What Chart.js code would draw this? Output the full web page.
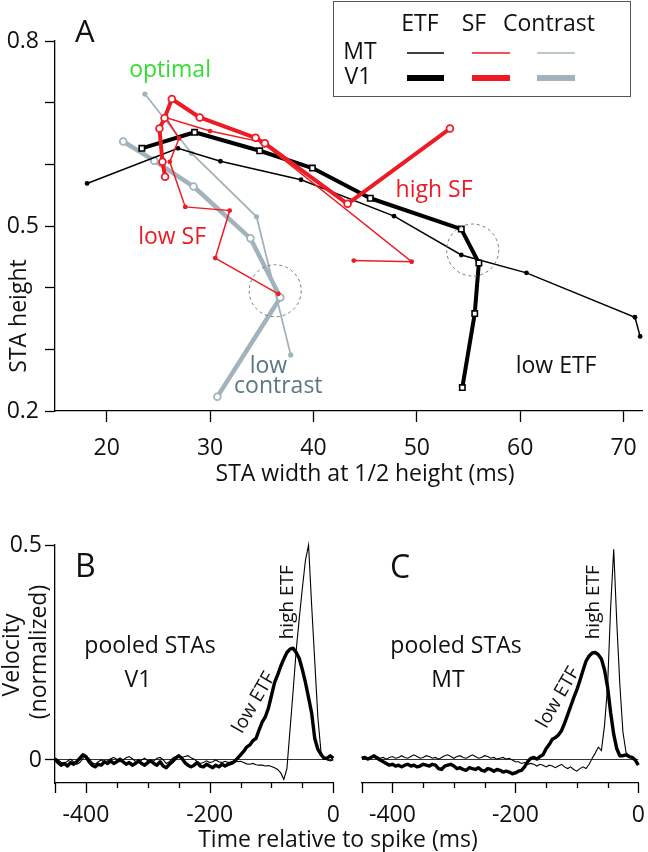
<!DOCTYPE html>
<html>
<head>
<meta charset="utf-8">
<script src="https://cdn.jsdelivr.net/npm/chart.js@4.4.1/dist/chart.umd.min.js"></script>
<style>
  body { margin: 0; background: #fff; }
  #wrap { position: relative; width: 648px; height: 852px; font-family: 'Open Sans', sans-serif; color: #111; }
  canvas { position: absolute; }
  #xtitleBC { position: absolute; left: 88px; width: 500px; top: 824px; text-align: center; font-size: 23px; line-height: 28px; }
</style>
</head>
<body>
<div id="wrap">
  <canvas id="chartA" width="648" height="520" style="left:0;top:0"></canvas>
  <canvas id="chartB" width="340" height="332" style="left:0;top:520px"></canvas>
  <canvas id="chartC" width="308" height="332" style="left:340px;top:520px"></canvas>
  <div id="xtitleBC">Time relative to spike (ms)</div>
</div>
<script>
Chart.defaults.font.family = "'Open Sans', sans-serif";
Chart.defaults.color = '#111';

// ---- panel A : STA height vs width ----
const mtEtfX = [18.1, 26.9, 31.0, 38.8, 47.8, 54.3, 60.6, 71.1, 71.6];
const mtEtfY = [0.569, 0.626, 0.605, 0.575, 0.516, 0.453, 0.424, 0.352, 0.321];
const v1EtfX = [23.4, 28.5, 34.8, 39.9, 45.5, 54.3, 56.0, 55.6, 54.4];
const v1EtfY = [0.626, 0.652, 0.622, 0.594, 0.545, 0.495, 0.44, 0.358, 0.238];
const mtSfX = [36.6, 30.5, 31.9, 27.6, 26.1, 27.0, 25.7, 30.0, 35.0, 49.5, 43.9];
const mtSfY = [0.39, 0.448, 0.525, 0.531, 0.604, 0.642, 0.676, 0.654, 0.636, 0.442, 0.444];
const v1SfX = [25.65, 25.4, 25.1, 25.6, 26.3, 29.0, 34.4, 35.3, 43.3, 53.2];
const v1SfY = [0.58, 0.604, 0.658, 0.675, 0.706, 0.676, 0.643, 0.634, 0.536, 0.658];
const mtConX = [23.7, 28.2, 34.5, 37.8];
const mtConY = [0.714, 0.618, 0.515, 0.291];
const v1ConX = [21.6, 24.6, 28.4, 33.9, 36.8, 30.7];
const v1ConY = [0.637, 0.606, 0.564, 0.48, 0.384, 0.223];
const circleX = [36.3, 55.4];
const circleY = [0.395, 0.461];
const xTicksA = [20, 30, 40, 50, 60, 70];
const yTicksA = [0.2, 0.3, 0.4, 0.5, 0.6, 0.7, 0.8];
const yLabelsA = [0.2, 0.5, 0.8];

// ---- panels B and C : pooled STAs ----
const timeMs = [
  -450, -445, -440, -435, -430, -425, -420, -415, -410, -405,
  -400, -395, -390, -385, -380, -375, -370, -365, -360, -355,
  -350, -345, -340, -335, -330, -325, -320, -315, -310, -305,
  -300, -295, -290, -285, -280, -275, -270, -265, -260, -255,
  -250, -245, -240, -235, -230, -225, -220, -215, -210, -205,
  -200, -195, -190, -185, -180, -175, -170, -165, -160, -155,
  -150, -145, -140, -135, -130, -125, -120, -115, -110, -105,
  -100, -95, -90, -85, -80, -75, -70, -65, -60, -55,
  -50, -45, -40, -35, -30, -25, -20, -15, -10, -5,
  0];
const v1High = [
  0.005, 0.0, -0.005, -0.008, -0.003, 0.002, -0.004, -0.01, -0.006, 0.003,
  0.01, 0.004, -0.006, -0.01, -0.004, 0.0, -0.005, -0.002, 0.003, 0.006,
  0.002, -0.004, 0.0, 0.005, 0.008, 0.003, -0.003, -0.006, 0.0, 0.004,
  -0.002, -0.006, -0.002, 0.004, 0.006, 0.0, -0.008, -0.004, 0.004, 0.008,
  0.01, 0.006, 0.008, 0.01, 0.005, 0.002, -0.004, -0.008, -0.006, -0.002,
  -0.006, -0.004, 0.0, -0.004, -0.006, -0.003, -0.006, -0.004, -0.002, -0.004,
  -0.003, -0.006, -0.009, -0.01, -0.008, -0.011, -0.012, -0.012, -0.014, -0.013,
  -0.015, -0.018, -0.022, -0.03, -0.045, -0.02, 0.07, 0.16, 0.255, 0.33,
  0.4, 0.465, 0.5, 0.36, 0.23, 0.1, 0.02, 0.004, 0.0, -0.002,
  0.0];
const v1Low = [
  0.002, -0.006, -0.012, -0.008, -0.014, -0.006, -0.01, -0.004, 0.004, 0.012,
  0.008, -0.004, -0.012, -0.016, -0.01, -0.012, -0.004, -0.008, -0.002, -0.008,
  -0.004, 0.002, -0.004, -0.01, -0.006, -0.012, -0.008, -0.002, -0.008, -0.012,
  -0.006, -0.002, -0.008, -0.012, -0.004, -0.014, -0.018, -0.01, -0.004, 0.004,
  0.01, 0.004, -0.006, -0.012, -0.016, -0.012, -0.006, -0.014, -0.016, -0.01,
  -0.014, -0.018, -0.012, -0.016, -0.01, -0.014, -0.01, -0.008, -0.004, 0.004,
  0.012, 0.02, 0.03, 0.035, 0.045, 0.05, 0.07, 0.088, 0.1, 0.12,
  0.15, 0.18, 0.198, 0.218, 0.235, 0.25, 0.258, 0.26, 0.25, 0.236,
  0.21, 0.18, 0.145, 0.109, 0.05, 0.025, 0.013, 0.004, 0.004, 0.01,
  0.004];
const mtHigh = [
  0.006, 0.008, 0.004, 0.006, 0.01, 0.008, 0.004, 0.006, 0.002, 0.006,
  0.008, 0.004, 0.006, 0.01, 0.006, 0.004, 0.008, 0.012, 0.008, 0.004,
  0.006, 0.01, 0.008, 0.004, 0.006, 0.002, 0.006, 0.01, 0.012, 0.008,
  0.004, 0.008, 0.01, 0.006, 0.004, 0.008, 0.012, 0.008, 0.004, 0.006,
  0.01, 0.008, 0.004, 0.006, 0.002, 0.004, 0.006, 0.002, 0.004, 0.0,
  -0.004, -0.004, -0.008, -0.006, -0.01, -0.008, -0.01, -0.014, -0.01, -0.012,
  -0.016, -0.012, -0.014, -0.018, -0.014, -0.01, -0.016, -0.02, -0.016, -0.022,
  -0.026, -0.02, -0.016, -0.02, -0.01, 0.004, 0.016, 0.03, 0.022, 0.08,
  0.17, 0.355, 0.49, 0.32, 0.175, 0.065, 0.018, 0.008, 0.004, 0.0,
  -0.006];
const mtLow = [
  0.004, 0.006, 0.002, 0.006, 0.01, 0.004, 0.0, -0.004, -0.008, -0.012,
  -0.01, -0.014, -0.012, -0.016, -0.012, -0.01, -0.014, -0.012, -0.016, -0.014,
  -0.01, -0.012, -0.014, -0.01, -0.012, -0.02, -0.022, -0.014, -0.012, -0.01,
  -0.014, -0.02, -0.018, -0.022, -0.024, -0.018, -0.02, -0.022, -0.018, -0.024,
  -0.026, -0.02, -0.022, -0.026, -0.022, -0.024, -0.028, -0.026, -0.028, -0.032,
  -0.03, -0.026, -0.024, -0.016, -0.004, 0.004, 0.006, 0.002, 0.008, 0.012,
  0.026, 0.036, 0.048, 0.052, 0.058, 0.068, 0.085, 0.105, 0.125, 0.145,
  0.163, 0.185, 0.208, 0.23, 0.242, 0.249, 0.25, 0.245, 0.235, 0.21,
  0.17, 0.11, 0.06, 0.026, 0.01, 0.01, 0.012, 0.008, 0.006, 0.0,
  -0.012];
const xTicksBC = [-450, -400, -350, -300, -250, -200, -150, -100, -50, 0];
const xLabelsBC = [-400, -200, 0];
const xMajorBC = [-450, -400, -200, 0];
const yTicksBC = [0, 0.5];

const RED = '#ed1c24', GRAY = '#a2b3bb', SLATE = '#5b7880', GREEN = '#33dd33';
const FONT = "'Open Sans', sans-serif";
const FS = 23;

function pts(xs, ys) { return xs.map((x, i) => ({ x: x, y: ys[i] })); }

// fixed axis box size, and no extra label padding pushed onto the layout
function fixBox(w, h) {
  return s => {
    if (w !== null) s.width = w;
    if (h !== null) s.height = h;
    s.paddingLeft = 0; s.paddingRight = 0; s.paddingTop = 0; s.paddingBottom = 0;
  };
}

// text drawn on the canvas, either in pixels or in data units
function makeNotes(items) {
  return {
    id: 'notes',
    afterDraw(chart) {
      const ctx = chart.ctx;
      items.forEach(n => {
        let x = n.x, y = n.y;
        if (n.data) { x = chart.scales.x.getPixelForValue(n.x); y = chart.scales.y.getPixelForValue(n.y); }
        ctx.save();
        ctx.translate(x, y);
        ctx.rotate((n.rot || 0) * Math.PI / 180);
        ctx.font = (n.size || FS) + 'px ' + FONT;
        ctx.fillStyle = n.color || '#111';
        ctx.textAlign = n.align || 'center';
        ctx.textBaseline = n.base || 'middle';
        ctx.fillText(n.text, 0, 0);
        ctx.restore();
      });
    }
  };
}

const circlesPlugin = {
  id: 'dashCircles',
  afterDatasetsDraw(chart) {
    const ctx = chart.ctx, sx = chart.scales.x, sy = chart.scales.y;
    ctx.save();
    ctx.strokeStyle = '#777';
    ctx.lineWidth = 1;
    ctx.setLineDash([3, 3]);
    circleX.forEach((cx, i) => {
      ctx.beginPath();
      ctx.arc(sx.getPixelForValue(cx), sy.getPixelForValue(circleY[i]), 26, 0, Math.PI * 2);
      ctx.stroke();
    });
    ctx.restore();
  }
};

const legendPlugin = {
  id: 'boxLegend',
  afterDraw(chart) {
    const ctx = chart.ctx;
    ctx.save();
    ctx.fillStyle = '#fff';
    ctx.fillRect(333.5, 1.5, 297, 95);
    ctx.strokeStyle = '#555';
    ctx.lineWidth = 1;
    ctx.strokeRect(333.5, 1.5, 297, 95);
    const cols = [[407, 444, '#000'], [472, 510, RED], [537, 575, GRAY]];
    cols.forEach(c => {
      ctx.strokeStyle = c[2];
      ctx.lineWidth = 1.6;
      ctx.beginPath(); ctx.moveTo(c[0], 53); ctx.lineTo(c[1], 53); ctx.stroke();
      ctx.lineWidth = 6;
      ctx.beginPath(); ctx.moveTo(c[0], 78); ctx.lineTo(c[1], 78); ctx.stroke();
    });
    ctx.restore();
  }
};

// minor / major tick marks for the time axes
const timeTicksPlugin = {
  id: 'timeTicks',
  afterDraw(chart) {
    const ctx = chart.ctx, sx = chart.scales.x, y0 = chart.chartArea.bottom;
    ctx.save();
    ctx.strokeStyle = '#000';
    ctx.lineWidth = 1.3;
    xTicksBC.forEach(t => {
      const px = Math.round(sx.getPixelForValue(t)) + 0.5;
      const len = xMajorBC.includes(t) ? 10 : 5;
      ctx.beginPath(); ctx.moveTo(px, y0); ctx.lineTo(px, y0 + len); ctx.stroke();
    });
    ctx.restore();
  }
};

const baseOpts = { responsive: false, animation: false, events: [] };

new Chart(document.getElementById('chartA'), {
  type: 'scatter',
  data: {
    datasets: [
      { data: pts(v1SfX, v1SfY), showLine: true, borderColor: RED, borderWidth: 4, borderJoinStyle: 'round',
        pointRadius: 3.4, pointBackgroundColor: '#fff', pointBorderColor: RED, pointBorderWidth: 1.8 },
      { data: pts(mtSfX, mtSfY), showLine: true, borderColor: RED, borderWidth: 1.5,
        pointRadius: 2.4, pointBackgroundColor: RED, pointBorderWidth: 0 },
      { data: pts(v1EtfX, v1EtfY), showLine: true, borderColor: '#000', borderWidth: 4, borderJoinStyle: 'round',
        pointStyle: 'rect', pointRadius: 3.8, pointBackgroundColor: '#fff', pointBorderColor: '#000', pointBorderWidth: 1.6 },
      { data: pts(mtEtfX, mtEtfY), showLine: true, borderColor: '#000', borderWidth: 1.5,
        pointRadius: 2.4, pointBackgroundColor: '#000', pointBorderWidth: 0 },
      { data: pts(v1ConX, v1ConY), showLine: true, borderColor: GRAY, borderWidth: 4.5, borderJoinStyle: 'round',
        pointRadius: 3.4, pointBackgroundColor: '#fff', pointBorderColor: GRAY, pointBorderWidth: 1.8 },
      { data: pts(mtConX, mtConY), showLine: true, borderColor: GRAY, borderWidth: 1.8,
        pointRadius: 2.6, pointBackgroundColor: GRAY, pointBorderWidth: 0 }
    ]
  },
  options: Object.assign({}, baseOpts, {
    clip: false,
    layout: { padding: { top: 41, right: 1.3, left: 0, bottom: 0 } },
    scales: {
      x: {
        type: 'linear', min: 15, max: 71.8,
        afterFit: fixBox(null, 109),
        afterBuildTicks: s => { s.ticks = xTicksA.map(v => ({ value: v })); },
        grid: { drawOnChartArea: false, tickLength: 11, tickColor: '#000', tickWidth: 1.3 },
        border: { color: '#000', width: 1.3 },
        ticks: { autoSkip: false, maxRotation: 0, padding: 13, font: { size: FS }, color: '#111', callback: v => String(v) }
      },
      y: {
        type: 'linear', min: 0.2, max: 0.8,
        afterFit: fixBox(55, null),
        afterBuildTicks: s => { s.ticks = yTicksA.map(v => ({ value: v })); },
        grid: { drawOnChartArea: false, tickLength: 10, tickColor: '#000', tickWidth: 1.3 },
        border: { color: '#000', width: 1.3 },
        ticks: { autoSkip: false, padding: 6, font: { size: FS }, color: '#111',
          callback: v => yLabelsA.some(l => Math.abs(l - v) < 1e-6) ? v.toFixed(1) : '' }
      }
    },
    plugins: { legend: { display: false }, tooltip: { enabled: false } }
  }),
  plugins: [circlesPlugin, legendPlugin, makeNotes([
    { text: 'A', x: 75, y: 42, size: 31, align: 'left', base: 'alphabetic' },
    { text: 'STA height', x: 19, y: 316, rot: -90 },
    { text: 'STA width at 1/2 height (ms)', x: 365, y: 474 },
    { text: 'ETF', x: 420, y: 24 }, { text: 'SF', x: 474, y: 24 }, { text: 'Contrast', x: 549, y: 24 },
    { text: 'MT', x: 360, y: 52 }, { text: 'V1', x: 358, y: 77 },
    { text: 'optimal', x: 26.13, y: 0.753, data: true, color: GREEN },
    { text: 'low SF', x: 26.33, y: 0.482, data: true, color: RED },
    { text: 'high SF', x: 51.67, y: 0.558, data: true, color: RED },
    { text: 'low', x: 35.64, y: 0.273, data: true, color: SLATE },
    { text: 'contrast', x: 36.6, y: 0.239, data: true, color: SLATE },
    { text: 'low ETF', x: 63.47, y: 0.273, data: true }
  ])]
});

function staChart(id, high, low, opts) {
  return new Chart(document.getElementById(id), {
    type: 'scatter',
    data: {
      datasets: [
        { data: pts(timeMs, high), showLine: true, borderColor: '#000', borderWidth: 1.1, pointRadius: 0 },
        { data: pts(timeMs, low), showLine: true, borderColor: '#000', borderWidth: 3.4, borderJoinStyle: 'round', pointRadius: 0 }
      ]
    },
    options: Object.assign({}, baseOpts, {
      clip: false,
      layout: { padding: opts.padding },
      scales: {
        x: {
          type: 'linear', min: -450, max: 0,
          afterFit: fixBox(null, 69),
          afterBuildTicks: s => { s.ticks = xTicksBC.map(v => ({ value: v })); },
          grid: { drawOnChartArea: false, drawTicks: false },
          border: { color: '#000', width: 1.3 },
          ticks: { autoSkip: false, maxRotation: 0, padding: 19, font: { size: FS }, color: '#111',
            callback: v => xLabelsBC.includes(v) ? String(v) : '' }
        },
        y: {
          type: 'linear', min: -0.0535, max: 0.5,
          afterFit: fixBox(opts.yWidth, null),
          afterBuildTicks: s => { s.ticks = yTicksBC.map(v => ({ value: v })); },
          grid: {
            color: c => (c.tick && c.tick.value === 0) ? '#000' : 'rgba(0,0,0,0)',
            lineWidth: 0.8, drawTicks: opts.yAxis, tickLength: 10, tickColor: '#000', tickWidth: 1.3
          },
          border: { display: opts.yAxis, color: '#000', width: 1.3 },
          ticks: { display: opts.yAxis, autoSkip: false, padding: 3, font: { size: FS }, color: '#111', callback: v => String(v) }
        }
      },
      plugins: { legend: { display: false }, tooltip: { enabled: false } }
    }),
    plugins: [timeTicksPlugin, makeNotes(opts.notes)]
  });
}

staChart('chartB', v1High, v1Low, {
  padding: { top: 25, right: 6.7, left: 0, bottom: 0 }, yWidth: 55, yAxis: true,
  notes: [
    { text: 'B', x: 75, y: 57, size: 32, align: 'left', base: 'alphabetic' },
    { text: 'Velocity', x: 12, y: 135, rot: -90 },
    { text: '(normalized)', x: 39, y: 132, rot: -90 },
    { text: 'pooled STAs', x: -296.4, y: 0.263, data: true },
    { text: 'V1', x: -315.8, y: 0.184, data: true },
    { text: 'low ETF', x: -128.2, y: 0.133, data: true, rot: -60, size: 19 },
    { text: 'high ETF', x: -73.3, y: 0.367, data: true, rot: -90, size: 19 }
  ]
});

staChart('chartC', mtHigh, mtLow, {
  padding: { top: 25, right: 9.7, left: 21.7, bottom: 0 }, yWidth: 0, yAxis: false,
  notes: [
    { text: 'C', x: 50, y: 58, size: 32, align: 'left', base: 'alphabetic' },
    { text: 'pooled STAs', x: -296.6, y: 0.263, data: true },
    { text: 'MT', x: -309.6, y: 0.184, data: true },
    { text: 'low ETF', x: -130.1, y: 0.145, data: true, rot: -60, size: 19 },
    { text: 'high ETF', x: -72.1, y: 0.367, data: true, rot: -90, size: 19 }
  ]
});
</script>
</body>
</html>
